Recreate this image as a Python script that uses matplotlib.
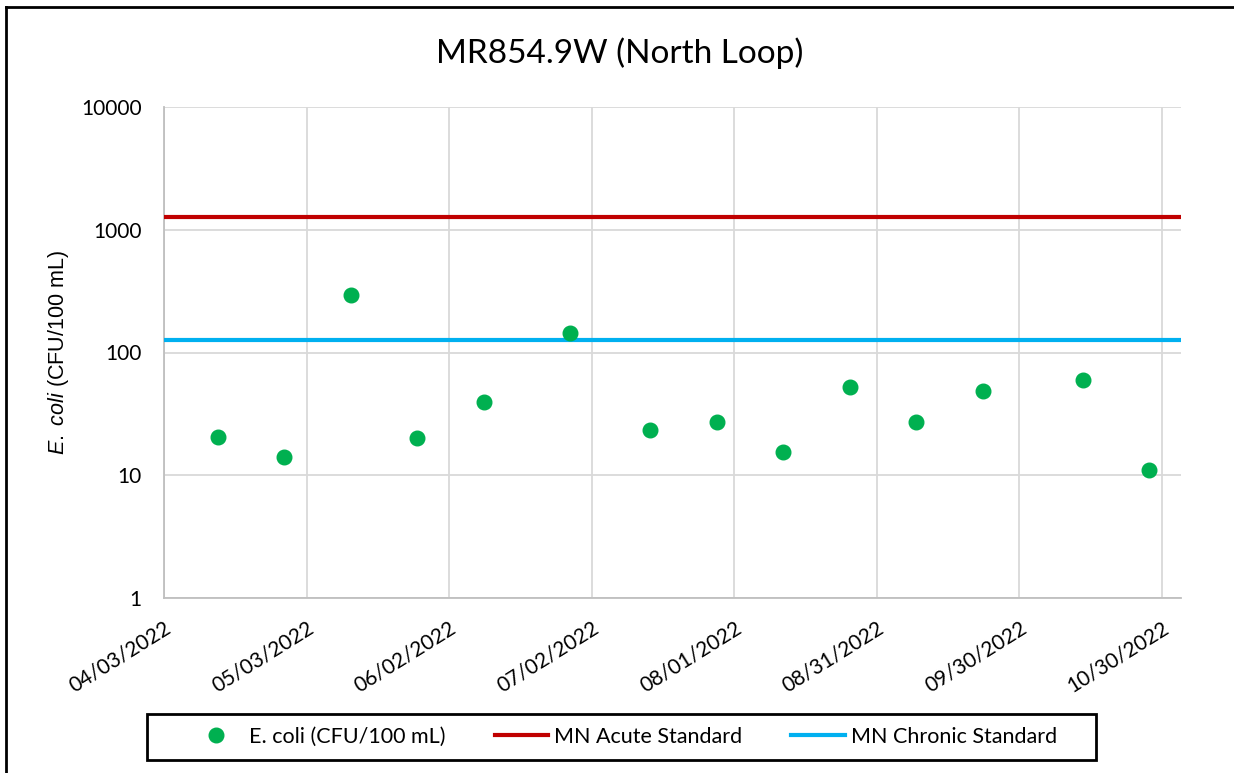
import pandas as pd
import matplotlib
matplotlib.use('Agg')
import matplotlib.pyplot as plt
import matplotlib.dates as mdates
from matplotlib.lines import Line2D
from matplotlib.patches import Rectangle

# sample data
sample_dates = pd.to_datetime([
    '2022-04-14 08:00', '2022-04-28 08:00', '2022-05-12 08:00', '2022-05-26 08:00',
    '2022-06-09 08:00', '2022-06-27 08:00', '2022-07-14 08:00', '2022-07-28 08:00',
    '2022-08-11 08:00', '2022-08-25 08:00', '2022-09-08 08:00', '2022-09-22 08:00',
    '2022-10-13 08:00', '2022-10-27 08:00'])
ecoli = [20.6, 14.0, 296, 20.1, 39.5, 144, 23.2, 27.1, 15.4, 52.7, 27.1, 48.9, 60.1, 11.0]

acute_standard = 1260
chronic_standard = 126

x_range = pd.to_datetime(['2022-04-03', '2022-11-03'])
tick_dates = pd.date_range('2022-04-03', periods=8, freq='30D')
y_ticks = [1, 10, 100, 1000, 10000]

plt.rcParams['font.family'] = 'Lato'
plt.rcParams['mathtext.fontset'] = 'custom'
plt.rcParams['mathtext.it'] = 'Liberation Sans:italic'
plt.rcParams['mathtext.rm'] = 'Liberation Sans'

fig = plt.figure(figsize=(12.34, 7.73), dpi=100)
ax = fig.add_axes([164 / 1234, 1 - 598 / 773, (1181 - 164) / 1234, (598 - 107) / 773])

ax.plot(sample_dates, ecoli, 'o', color='#00B050', markersize=10.5, zorder=4,
        label='E. coli (CFU/100 mL)')
ax.plot(x_range, [acute_standard] * 2, color='#C00000', lw=3, zorder=3,
        label='MN Acute Standard')
ax.plot(x_range, [chronic_standard] * 2, color='#00B0F0', lw=3, zorder=3,
        label='MN Chronic Standard')

ax.set_yscale('log')
ax.set_ylim(1, 10000)
ax.set_yticks(y_ticks)
ax.set_yticklabels([str(v) for v in y_ticks])
ax.yaxis.set_minor_locator(matplotlib.ticker.NullLocator())
ax.set_xlim(x_range[0], x_range[1])
ax.set_xticks(tick_dates)
ax.xaxis.set_major_formatter(mdates.DateFormatter('%m/%d/%Y'))

ax.grid(True, color='#D9D9D9', lw=1.3, zorder=0)
ax.set_axisbelow(True)
for s in ['top', 'right']:
    ax.spines[s].set_visible(False)
for s in ['left', 'bottom']:
    ax.spines[s].set_color('#BFBFBF')
    ax.spines[s].set_linewidth(1.3)

ax.tick_params(axis='both', length=0, labelsize=15, colors='black')
ax.tick_params(axis='y', pad=16)
ax.tick_params(axis='x', pad=14)
plt.setp(ax.get_xticklabels(), rotation=32, ha='right', va='top', rotation_mode='anchor')

ax.set_ylabel(r'$\mathit{E.\ coli}$ (CFU/100 mL)', family='Liberation Sans', fontsize=15.5,
              labelpad=7)
fig.text(620 / 1234, 1 - 53 / 773, 'MR854.9W (North Loop)', fontsize=24, ha='center', va='center')

# legend box
fig.add_artist(Rectangle((147 / 1234, 1 - 760 / 773), 949 / 1234, 46 / 773,
                         transform=fig.transFigure, fill=False, ec='black', lw=2))
fig.legend(loc='center', bbox_to_anchor=(623 / 1234, 1 - 737 / 773), ncol=3, frameon=False,
           fontsize=15.5, handlelength=2.5, handletextpad=0.25, columnspacing=2.3)

# outer frame (top and left only)
fig.add_artist(Line2D([6 / 1234, 1], [1 - 7 / 773] * 2, color='black', lw=2))
fig.add_artist(Line2D([6 / 1234] * 2, [0, 1 - 7 / 773], color='black', lw=2))

fig.savefig('out.png', dpi=100)
